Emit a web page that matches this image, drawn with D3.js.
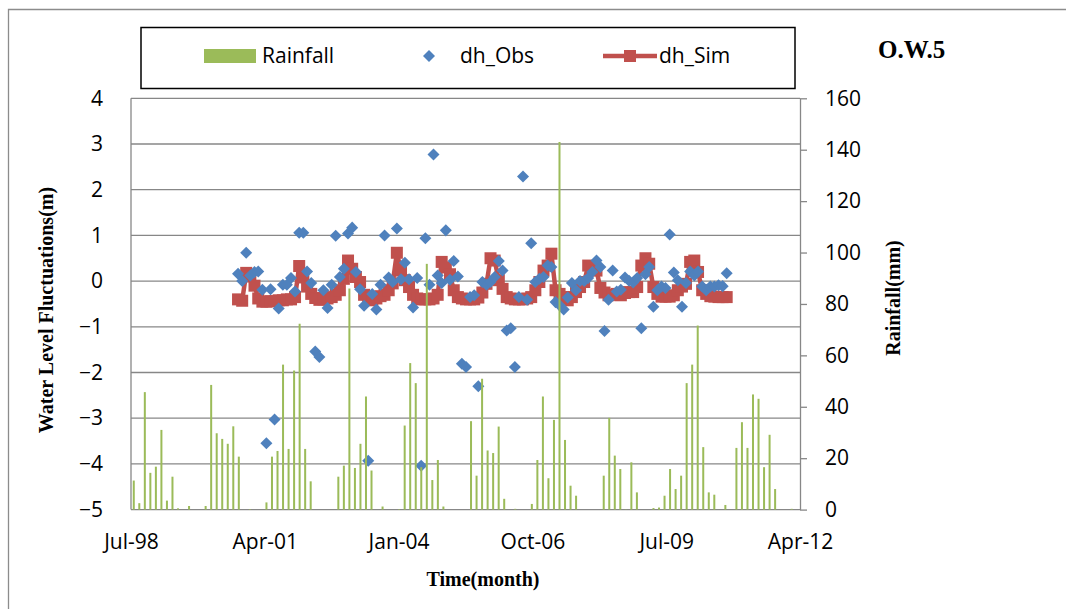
<!DOCTYPE html>
<html>
<head>
<meta charset="utf-8">
<script src="https://cdn.jsdelivr.net/npm/d3@7"></script>
<style>
  body { margin: 0; background: #fff; }
  svg { display: block; }
</style>
</head>
<body>
<div id="chart"></div>
<script>
// O.W.5 — observed vs simulated water level fluctuation with monthly rainfall

const PALETTE = {
  rain: "#9bbb59",
  obs: "#4f81bd",
  sim: "#c0504d",
  grid: "#878787",
  frame: "#8c8c8c",
  text: "#000",
};

// monthly rainfall (mm), drawn on its own category axis across the plot
const rainfall = [
  11.3, 2.5, 45.7, 14.3, 16.7, 31, 3.5, 12.8, 0.5, 0, 1.4, 0, 0, 1.4, 48.5, 29.7,
  27.5, 25.6, 32.4, 20.6, 0, 0.2, 0, 0, 2.8, 20.6, 22.8, 56.4, 23.6, 54.1, 72.3, 23.6,
  11, 0, 0, 0, 0, 12.8, 17.1, 86, 16.2, 25.6, 44, 15.2, 0, 1.2, 0, 0,
  0.2, 32.7, 57, 49.2, 16.5, 95.6, 11.5, 19.3, 1.2, 0, 0, 0, 0, 34.4, 13.2, 50.9,
  23, 22, 32.3, 4.2, 0, 0.3, 0, 0, 2.2, 19.3, 44, 12.2, 34.9, 143, 27.1, 9.3,
  5.4, 0, 0, 0, 0, 13.2, 35.7, 21, 15.8, 0.1, 18.4, 6.7, 0, 0, 0.6, 0.8,
  5.4, 15.8, 8, 13.2, 49.2, 56.4, 71.6, 24.3, 6.7, 5.8, 0, 1.8, 0, 24, 34, 24,
  44.8, 43.1, 16.5, 29.1, 8, 0, 0, 0.3, 0
];

// monthly water level fluctuations (m), Oct-2000 onwards
const seriesStart = new Date(2000, 9, 1);

const dhObs = [
  0.16, 0.0, 0.62, 0.12, 0.2, 0.21, -0.19, -3.55, -0.18, -3.03, -0.6, -0.08,
  -0.08, 0.07, -0.23, 1.06, 1.06, 0.21, -0.04, -1.54, -1.66, -0.2, -0.59, -0.08,
  0.99, 0.09, 0.27, 1.04, 1.17, 0.2, -0.18, -0.54, -3.93, -0.28, -0.62, -0.08,
  1.0, 0.08, -0.02, 1.15, 0.04, 0.4, 0.04, -0.58, 0.07, -4.04, 0.94, -0.08,
  2.77, 0.12, -0.04, 1.11, 0.03, 0.44, 0.1, -1.81, -1.88, -0.35, -0.31, -2.3,
  -0.02, -0.08, -0.02, 0.09, 0.44, 0.23, -1.08, -1.03, -1.88, -0.35, 2.29, -0.41,
  0.83, -0.02, 0.05, 0.09, 0.34, 0.31, -0.46, -0.53, -0.62, -0.36, -0.04, -0.2,
  0, 0, 0.07, 0.2, 0.45, 0.31, -1.09, -0.41, 0.23, -0.23, -0.19, 0.08,
  0.01, -0.03, 0.07, -1.03, 0.15, 0.31, -0.56, -0.2, -0.12, -0.15, 1.02, 0.19,
  0.02, -0.56, -0.04, 0.21, 0.12, 0.21, -0.12, -0.2, -0.12, -0.12, -0.09, -0.11,
  0.17
];

const dhSim = [
  -0.4, -0.43, 0.18, 0.1, -0.1, -0.38, -0.45, -0.45, -0.44, -0.44, -0.42, -0.42,
  -0.4, -0.4, -0.35, 0.33, 0.08, -0.12, -0.28, -0.37, -0.41, -0.4, -0.38, -0.35,
  -0.3, -0.2, 0.05, 0.45, 0.27, 0.09, -0.02, -0.3, -0.4, -0.42, -0.38, -0.33,
  -0.3, -0.2, -0.05, 0.62, 0.23, 0.02, -0.13, -0.3, -0.38, -0.4, -0.4, -0.4,
  -0.38, -0.3, 0.42, 0.3, 0.15, -0.2, -0.35, -0.38, -0.4, -0.4, -0.4, -0.36,
  -0.25, -0.06, 0.5, 0.45, 0.02, -0.17, -0.35, -0.38, -0.4, -0.4, -0.4, -0.38,
  -0.35, -0.2, -0.02, 0.23, 0.34, 0.6, -0.2, -0.28, -0.35, -0.42, -0.35, -0.24,
  -0.13, -0.02, 0.34, 0.3, 0.23, -0.15, -0.25, -0.31, -0.3, -0.28, -0.31, -0.26,
  -0.24, -0.24, -0.13, 0.34, 0.5, 0.38, -0.13, -0.28, -0.34, -0.34, -0.34, -0.31,
  -0.2, -0.12, -0.06, 0.42, 0.45, 0.2, -0.2, -0.28, -0.33, -0.34, -0.35, -0.35,
  -0.35
];

const dateTicks = [
  new Date(1998, 6, 24), new Date(2001, 3, 19), new Date(2004, 0, 14),
  new Date(2006, 9, 10), new Date(2009, 6, 6), new Date(2012, 3, 1)
];
const levelTicks = [-5, -4, -3, -2, -1, 0, 1, 2, 3, 4];
const rainTicks = [0, 20, 40, 60, 80, 100, 120, 140, 160];

const W = 1066, H = 609;
const plot = { left: 131, right: 800, top: 98.3, bottom: 509.6 };
const TICK_FONT = "'Open Sans', sans-serif";
const TITLE_FONT = "'Liberation Serif', 'Times New Roman', serif";

const svg = d3.select("#chart").append("svg")
  .attr("width", W)
  .attr("height", H);

// outer chart frame (runs off the right/bottom of the picture)
svg.append("path")
  .attr("d", `M8.5,${H + 5}V9.5H${W + 5}`)
  .attr("fill", "none")
  .attr("stroke", PALETTE.frame)
  .attr("stroke-width", 1.3);

const x = d3.scaleTime()
  .domain([dateTicks[0], dateTicks[dateTicks.length - 1]])
  .range([plot.left, plot.right]);

const xRain = d3.scaleBand()
  .domain(d3.range(rainfall.length))
  .range([plot.left, plot.right]);

const y = d3.scaleLinear().domain([-5, 4]).range([plot.bottom, plot.top]);
const yRain = d3.scaleLinear().domain([0, 160]).range([plot.bottom, plot.top]);

// gridlines
svg.append("g")
  .selectAll("line")
  .data(levelTicks)
  .join("line")
  .attr("x1", plot.left)
  .attr("x2", plot.right)
  .attr("y1", d => y(d))
  .attr("y2", d => y(d))
  .attr("stroke", PALETTE.grid)
  .attr("stroke-width", 1.3);

svg.append("line")
  .attr("x1", plot.left).attr("x2", plot.left)
  .attr("y1", plot.top).attr("y2", plot.bottom)
  .attr("stroke", PALETTE.grid)
  .attr("stroke-width", 1.3);

// left axis
const leftAxis = svg.append("g")
  .attr("transform", `translate(${plot.left},0)`)
  .call(d3.axisLeft(y).tickValues(levelTicks).tickSize(0).tickPadding(28));
leftAxis.select(".domain").remove();

// right axis
const rightAxis = svg.append("g")
  .attr("transform", `translate(${plot.right},0)`)
  .call(d3.axisRight(yRain).tickValues(rainTicks).tickSize(7).tickSizeOuter(0).tickPadding(18));
rightAxis.select(".domain").attr("stroke", PALETTE.grid).attr("stroke-width", 1.3);
rightAxis.selectAll(".tick line").attr("stroke", PALETTE.grid).attr("stroke-width", 1.3);

// bottom axis
const bottomAxis = svg.append("g")
  .attr("transform", `translate(0,${plot.bottom})`)
  .call(d3.axisBottom(x).tickValues(dateTicks).tickFormat(d3.timeFormat("%b-%y")).tickSize(0).tickPadding(24));
bottomAxis.select(".domain").remove();

svg.selectAll(".tick text")
  .attr("font-family", TICK_FONT)
  .attr("font-size", "21px")
  .attr("fill", PALETTE.text);

// simulated line + squares
const simData = dhSim.map((v, i) => ({ date: d3.timeMonth.offset(seriesStart, i), v }));
const obsData = dhObs.map((v, i) => ({ date: d3.timeMonth.offset(seriesStart, i), v }));

svg.append("path")
  .datum(simData)
  .attr("fill", "none")
  .attr("stroke", PALETTE.sim)
  .attr("stroke-width", 4.5)
  .attr("stroke-linejoin", "round")
  .attr("d", d3.line().x(d => x(d.date)).y(d => y(d.v)));

svg.append("g")
  .selectAll("rect")
  .data(simData)
  .join("rect")
  .attr("x", d => x(d.date) - 6)
  .attr("y", d => y(d.v) - 6)
  .attr("width", 12)
  .attr("height", 12)
  .attr("fill", PALETTE.sim);

// observed diamonds
const diamond = d3.symbol().type(d3.symbolDiamond2).size(92);
svg.append("g")
  .selectAll("path")
  .data(obsData)
  .join("path")
  .attr("transform", d => `translate(${x(d.date)},${y(d.v)})`)
  .attr("d", diamond)
  .attr("fill", PALETTE.obs);

// rainfall bars (secondary axis, drawn on top)
svg.append("g")
  .selectAll("rect")
  .data(rainfall)
  .join("rect")
  .attr("x", (d, i) => xRain(i) + xRain.bandwidth() / 2 - 1)
  .attr("y", d => yRain(d))
  .attr("width", 2)
  .attr("height", d => yRain(0) - yRain(d))
  .attr("fill", PALETTE.rain);

// axis titles
svg.append("text")
  .attr("transform", "translate(53,310) rotate(-90)")
  .attr("text-anchor", "middle")
  .attr("font-family", TITLE_FONT)
  .attr("font-weight", "bold")
  .attr("font-size", "20px")
  .text("Water Level Fluctuations(m)");

svg.append("text")
  .attr("transform", "translate(900,298) rotate(-90)")
  .attr("text-anchor", "middle")
  .attr("font-family", TITLE_FONT)
  .attr("font-weight", "bold")
  .attr("font-size", "20px")
  .text("Rainfall(mm)");

svg.append("text")
  .attr("x", 483)
  .attr("y", 586)
  .attr("text-anchor", "middle")
  .attr("font-family", TITLE_FONT)
  .attr("font-weight", "bold")
  .attr("font-size", "20px")
  .text("Time(month)");

svg.append("text")
  .attr("x", 878)
  .attr("y", 58)
  .attr("font-family", TITLE_FONT)
  .attr("font-weight", "bold")
  .attr("font-size", "25px")
  .text("O.W.5");

// legend
const legend = svg.append("g");
legend.append("rect")
  .attr("x", 141).attr("y", 27.5)
  .attr("width", 654).attr("height", 61)
  .attr("fill", "#fff")
  .attr("stroke", "#000")
  .attr("stroke-width", 1.5);

legend.append("rect")
  .attr("x", 204).attr("y", 49)
  .attr("width", 52).attr("height", 14)
  .attr("fill", PALETTE.rain);

legend.append("path")
  .attr("transform", "translate(429,56)")
  .attr("d", diamond)
  .attr("fill", PALETTE.obs);

legend.append("line")
  .attr("x1", 603).attr("x2", 657)
  .attr("y1", 56).attr("y2", 56)
  .attr("stroke", PALETTE.sim)
  .attr("stroke-width", 4.5);
legend.append("rect")
  .attr("x", 624).attr("y", 50)
  .attr("width", 12).attr("height", 12)
  .attr("fill", PALETTE.sim);

const legendLabels = [
  { text: "Rainfall", x: 262 },
  { text: "dh_Obs", x: 460 },
  { text: "dh_Sim", x: 659 },
];
legend.selectAll("text.lbl")
  .data(legendLabels)
  .join("text")
  .attr("class", "lbl")
  .attr("x", d => d.x)
  .attr("y", 63)
  .attr("font-family", TICK_FONT)
  .attr("font-size", "21px")
  .attr("fill", PALETTE.text)
  .text(d => d.text);
</script>
</body>
</html>
